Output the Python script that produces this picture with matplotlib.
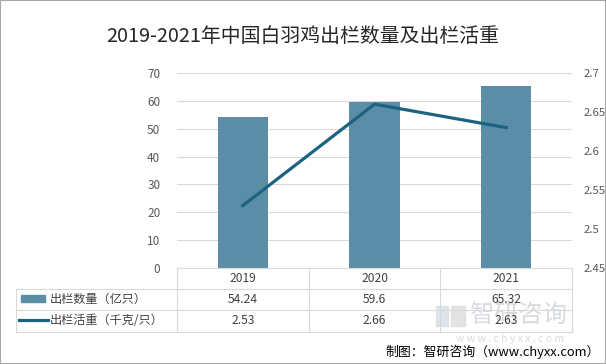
import matplotlib
matplotlib.use("Agg")
import matplotlib.pyplot as plt
from matplotlib.patches import Rectangle
from matplotlib.lines import Line2D

plt.rcParams['font.family'] = ['Noto Sans CJK SC', 'DejaVu Sans']

years = ['2019', '2020', '2021']
count = [54.24, 59.6, 65.32]      # 出栏数量（亿只）
weight = [2.53, 2.66, 2.63]       # 出栏活重（千克/只）
row_labels = ['出栏数量（亿只）', '出栏活重（千克/只）']
title = '2019-2021年中国白羽鸡出栏数量及出栏活重'

bar_color = '#5B8DA6'
line_color = '#1C6381'
grid_color = '#D9D9D9'
tick_color = '#595959'

W, H = 606, 364
fig = plt.figure(figsize=(W / 100, H / 100), dpi=100)

def fx(x):
    return x / W

def fy(y):
    return 1 - y / H

left, right, top, bottom = 177, 572, 73, 268
ax = fig.add_axes([fx(left), fy(bottom), fx(right - left), (bottom - top) / H])
ax2 = ax.twinx()

pos = range(len(years))
ax.bar(pos, count, width=0.38, color=bar_color, zorder=2)
ax.set_xlim(-0.5, len(years) - 0.5)
ax.set_ylim(0, 70)
ax.set_yticks(range(0, 71, 10))
ax.grid(axis='y', color=grid_color, linewidth=0.8, zorder=0)
ax.set_xticks([])
ax.tick_params(axis='y', length=0, pad=12, labelsize=8.5, labelcolor=tick_color)

ax2.plot(pos, weight, color=line_color, linewidth=2.3, zorder=3)
ax2.set_ylim(2.45, 2.7)
ax2.set_yticks([2.45, 2.5, 2.55, 2.6, 2.65, 2.7])
ax2.set_yticklabels(['2.45', '2.5', '2.55', '2.6', '2.65', '2.7'])
ax2.tick_params(axis='y', length=0, pad=8, labelsize=8.2, labelcolor=tick_color)

for a in (ax, ax2):
    for s in a.spines.values():
        s.set_visible(False)

# data table under the plot
rows_y = [268, 289, 310, 332]
col_x = [left + i * (right - left) / 3 for i in range(4)]
tl = 16
lines = []
for y in rows_y:
    x0 = left if y == rows_y[0] else tl
    lines.append(((x0, right), (y, y)))
for x in col_x:
    lines.append(((x, x), (rows_y[0], rows_y[-1])))
lines.append(((tl, tl), (rows_y[1], rows_y[-1])))
for xs, ys in lines:
    fig.add_artist(Line2D([fx(v) for v in xs], [fy(v) for v in ys],
                          color=grid_color, linewidth=0.8))

# watermark (drawn before the table text so the numbers sit on top)
wm = '#CDD2D7'
fig.add_artist(Rectangle((fx(436), fy(326)), fx(12), 20 / H, color='#D6DEE6', alpha=0.8))
fig.add_artist(Rectangle((fx(451), fy(326)), fx(14), 20 / H, color='#DDDDDD', alpha=0.8))
fig.text(fx(470), fy(316), '智研咨询', ha='left', va='center', fontsize=17.5,
         color=wm, alpha=0.8, zorder=1)
fig.text(fx(510), fy(339), 'w w w . c h y x x . c o m', ha='center', va='center',
         fontsize=7.5, color=wm, alpha=0.8)

centers = [(col_x[i] + col_x[i + 1]) / 2 for i in range(3)]
table_vals = [years, [str(v) for v in count], [str(v) for v in weight]]
for r, vals in enumerate(table_vals):
    yc = (rows_y[r] + rows_y[r + 1]) / 2
    for xc, v in zip(centers, vals):
        fig.text(fx(xc), fy(yc), v, ha='center', va='center',
                 fontsize=8.7, color='#404040', zorder=5)

# legend keys + row labels
fig.add_artist(Rectangle((fx(21), fy(302)), fx(24), 7 / H, color=bar_color))
fig.add_artist(Line2D([fx(19), fx(48)], [fy(320), fy(320)],
                      color=line_color, linewidth=2.3))
for r, lab in enumerate(row_labels):
    yc = (rows_y[r + 1] + rows_y[r + 2]) / 2
    fig.text(fx(50), fy(yc), lab, ha='left', va='center',
             fontsize=8.7, color='#404040')

fig.text(0.5, fy(37), title, ha='center', va='center', fontsize=14.3,
         color='#262626')

fig.text(fx(600), fy(352), '制图：智研咨询（www.chyxx.com）', ha='right', va='center',
         fontsize=9.3, color='black')

fig.add_artist(Rectangle((0, 0), 1, 1, fill=False, edgecolor='#A6A6A6',
                         linewidth=1.5, transform=fig.transFigure))

fig.savefig('out.png', dpi=100)
